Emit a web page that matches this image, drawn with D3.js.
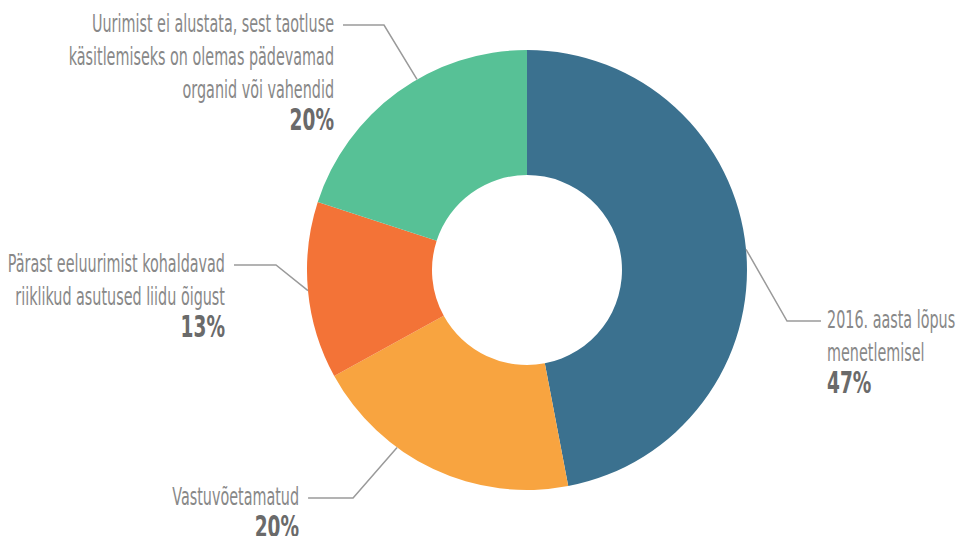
<!DOCTYPE html>
<html>
<head>
<meta charset="utf-8">
<script src="https://cdn.jsdelivr.net/npm/d3@7"></script>
<style>
  body { margin: 0; background: #fff; }
  svg text { font-family: "Liberation Sans Narrow", "DejaVu Sans Condensed", "Roboto", sans-serif; }
</style>
</head>
<body>
<svg id="chart"></svg>
<script>
// Slice data, clockwise from 12 o'clock
const categories = [
  ["2016. aasta lõpus", "menetlemisel"],
  ["Vastuvõetamatud"],
  ["Pärast eeluurimist kohaldavad", "riiklikud asutused liidu õigust"],
  ["Uurimist ei alustata, sest taotluse", "käsitlemiseks on olemas pädevamad", "organid või vahendid"]
];
const values = [47, 20, 13, 20];
const colors = ["#3b718f", "#f8a440", "#f37337", "#57c196"];

// label placement (layout only): side, elbow height, elbow run, horizontal run, leader angle nudge (deg)
const labelSide = ["right", "left", "left", "left"];
const labelElbowY = [321, 498, 265, 25];
const labelElbowDx = [41, -44, -32, -33];
const labelRun = [34, 45, 42, 41];
const leaderNudge = [0, 11, 0, 6];

const width = 958, height = 536;
const cx = 527, cy = 270;
const outerR = 220, innerR = 95;

const svg = d3.select("#chart").attr("width", width).attr("height", height);
const g = svg.append("g").attr("transform", `translate(${cx},${cy})`);

const data = values.map((v, i) => ({ value: v, lines: categories[i], color: colors[i], i }));

const pie = d3.pie().sort(null).value(d => d.value);
const arc = d3.arc().innerRadius(innerR).outerRadius(outerR);

const arcs = pie(data);

g.selectAll("path.slice")
  .data(arcs)
  .enter()
  .append("path")
    .attr("class", "slice")
    .attr("d", arc)
    .attr("fill", d => d.data.color);

// leader lines + labels
const lineGap = 33;
const sx = 0.665; // squeeze text so it reads like the condensed face of the original

arcs.forEach(a => {
  const i = a.data.i;
  const side = labelSide[i];
  const dir = side === "right" ? 1 : -1;
  const ang = (a.startAngle + a.endAngle) / 2 + leaderNudge[i] * Math.PI / 180;
  const px = Math.sin(ang) * outerR;
  const py = -Math.cos(ang) * outerR;

  const ey = labelElbowY[i] - cy;
  const ex = px + labelElbowDx[i];
  const hx = ex + dir * labelRun[i];

  g.append("polyline")
    .attr("points", [[px, py], [ex, ey], [hx, ey]].map(p => p.join(",")).join(" "))
    .attr("fill", "none")
    .attr("stroke", "#9a9a9a")
    .attr("stroke-width", 1.5);

  const tx = hx + dir * (side === "right" ? 6 : 9);
  const lg = g.append("g")
    .attr("transform", `translate(${tx},${ey + 7}) scale(${sx},1)`);

  a.data.lines.forEach((t, k) => {
    lg.append("text")
      .attr("x", 0)
      .attr("y", k * lineGap)
      .attr("text-anchor", side === "right" ? "start" : "end")
      .attr("fill", "#888888")
      .style("font-size", "24px")
      .text(t);
  });
  lg.append("text")
    .attr("x", 0)
    .attr("y", (a.data.lines.length - 1) * lineGap + 32)
    .attr("text-anchor", side === "right" ? "start" : "end")
    .attr("fill", "#6a6a6a")
    .style("font-size", "31px")
    .style("font-weight", "bold")
    .text(d3.format(".0f")(a.data.value) + "%");
});
</script>
</body>
</html>
